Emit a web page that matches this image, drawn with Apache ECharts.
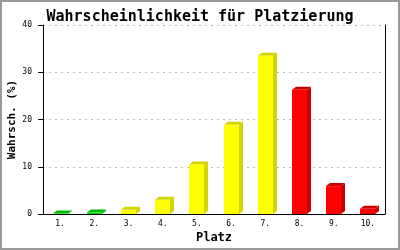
<!DOCTYPE html>
<html><head><meta charset="utf-8">
<script src="https://cdn.jsdelivr.net/npm/echarts@6/dist/echarts.min.js"></script>
<style>html,body{margin:0;padding:0;background:#fff}#c{width:400px;height:250px}</style>
</head><body><div id="c"></div>
<script>
const categories = ['1.', '2.', '3.', '4.', '5.', '6.', '7.', '8.', '9.', '10.'];
const values = [0.1, 0.3, 0.9, 3.0, 10.5, 18.9, 33.5, 26.3, 5.9, 1.1];
const yTicks = [0, 10, 20, 30, 40];

// styles (kept apart from data)
const frontColors = ['#00dd00','#00dd00','#ffff00','#ffff00','#ffff00','#ffff00','#ffff00','#ff0000','#ff0000','#ff0000'];
const sideColors  = ['#00b800','#00b800','#d4d400','#d4d400','#d4d400','#d4d400','#d4d400','#cc0000','#cc0000','#cc0000'];

const font = 'DejaVu Sans Mono';
const chart = echarts.init(document.getElementById('c'));
chart.setOption({
  animation: false,
  backgroundColor: '#fff',
  title: {
    text: 'Wahrscheinlichkeit für Platzierung',
    left: 'center', top: 5,
    textStyle: {fontFamily: font, fontSize: 15, fontWeight: 'bold', color: '#000'}
  },
  grid: {left: 43, right: 15, top: 25, bottom: 36, outerBoundsMode: 'none', containLabel: false},
  xAxis: {
    type: 'category', data: categories,
    name: 'Platz', nameLocation: 'middle', nameGap: 18, nameMoveOverlap: false,
    nameTextStyle: {fontFamily: font, fontSize: 12, fontWeight: 'bold', color: '#000'},
    axisLine: {lineStyle: {color: '#000', width: 1}},
    axisTick: {show: false},
    axisLabel: {fontFamily: font, fontSize: 8, color: '#000', margin: 6, interval: 0}
  },
  yAxis: [{
    type: 'value', min: yTicks[0], max: yTicks[yTicks.length-1], interval: 10,
    name: 'Wahrsch. (%)', nameLocation: 'middle', nameGap: 25, nameMoveOverlap: false,
    nameTextStyle: {fontFamily: font, fontSize: 11, fontWeight: 'bold', color: '#000'},
    axisLine: {show: true, lineStyle: {color: '#000', width: 1}},
    axisTick: {show: true, length: 5, lineStyle: {color: '#000'}},
    axisLabel: {fontFamily: font, fontSize: 8, color: '#000', margin: 11},
    splitLine: {show: true, lineStyle: {color: '#bbbbbb', type: [2, 4], width: 1}}
  }, {
    type: 'value', min: yTicks[0], max: yTicks[yTicks.length-1], interval: 10, position: 'right',
    axisLine: {show: true, lineStyle: {color: '#000', width: 1}},
    axisTick: {show: false}, axisLabel: {show: false}, splitLine: {show: false}
  }],
  graphic: [{
    type: 'rect', shape: {x: 1, y: 1, width: 398, height: 248},
    style: {fill: 'none', stroke: '#999', lineWidth: 2}, silent: true, z: 100
  }],
  series: [{
    type: 'custom',
    data: values.map((v, i) => [i, v]),
    renderItem: function (params, api) {
      const i = api.value(0);
      const top = api.coord([i, api.value(1)]);
      const base = api.coord([i, 0]);
      const w = api.size([1, 0])[0] * 0.44;
      const dx = 4, dy = 3;
      const x0 = Math.round(top[0] - w / 2), x1 = x0 + Math.round(w);
      const yT = top[1], yB = base[1];
      return {
        type: 'group',
        children: [
          {type: 'polygon', shape: {points: [[x1, yT], [x1 + dx, yT - dy], [x1 + dx, yB - dy], [x1, yB]]},
           style: {fill: sideColors[i]}},
          {type: 'polygon', shape: {points: [[x0, yT], [x0 + dx, yT - dy], [x1 + dx, yT - dy], [x1, yT]]},
           style: {fill: sideColors[i]}},
          {type: 'rect', shape: {x: x0, y: yT, width: x1 - x0, height: yB - yT},
           style: {fill: frontColors[i]}}
        ]
      };
    }
  }]
});
</script></body></html>
